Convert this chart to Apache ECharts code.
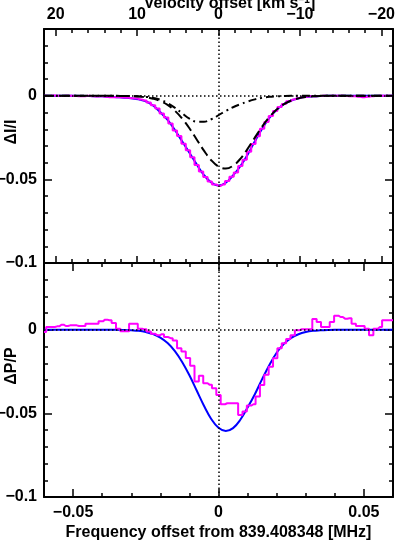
<!DOCTYPE html>
<html>
<head>
<meta charset="utf-8">
<script src="https://cdn.jsdelivr.net/npm/echarts@6/dist/echarts.min.js"></script>
<style>
html,body{margin:0;padding:0;background:#fff;}
#chart{width:415px;height:553px;}
</style>
</head>
<body>
<div id="chart"></div>
<script>
// ---------- DATA ----------
// frequency grid for the smooth fitted curves [MHz]
const fitFreq = [-0.06,-0.05,-0.04,-0.0375,-0.035,-0.0325,-0.03,-0.0275,-0.025,-0.0225,-0.02,-0.0175,-0.015,-0.0125,-0.01,-0.0075,-0.005,-0.0025,0,0.0025,0.005,0.0075,0.01,0.0125,0.015,0.0175,0.02,0.0225,0.025,0.0275,0.03,0.0325,0.035,0.0375,0.04,0.05,0.06];
// top panel: total fit (blue)
const fitTotalI = [0,0,-0.0003,-0.0005,-0.0008,-0.0011,-0.0015,-0.0021,-0.0032,-0.0058,-0.0098,-0.0144,-0.0204,-0.0272,-0.0340,-0.0410,-0.0474,-0.0518,-0.0537,-0.0520,-0.0476,-0.0421,-0.0352,-0.0272,-0.0196,-0.0132,-0.0084,-0.0050,-0.0028,-0.0014,-0.0006,-0.0003,-0.0001,0,0,0,0];
// top panel: component 1 (dashed)
const compDashedI = [0,0,0,0,0,-0.0001,-0.0002,-0.0004,-0.0008,-0.0017,-0.0031,-0.0054,-0.0089,-0.0136,-0.0194,-0.0261,-0.0328,-0.0385,-0.0423,-0.0435,-0.0418,-0.0377,-0.0317,-0.0250,-0.0184,-0.0127,-0.0082,-0.0050,-0.0028,-0.0015,-0.0007,-0.0003,-0.0001,0,0,0,0];
// top panel: component 2 (dash-dot)
const compDashDotI = [0,0,0,0,0,-0.0001,-0.0001,-0.0003,-0.0006,-0.0012,-0.0023,-0.0043,-0.0071,-0.0104,-0.0136,-0.0155,-0.0155,-0.0140,-0.0116,-0.0090,-0.0068,-0.0050,-0.0034,-0.0021,-0.0012,-0.0006,-0.0003,-0.0001,0,0,0,0,0,0,0,0,0];
// bottom panel: fit (blue)
const fitP = [0,0,0,0,0,-0.0001,-0.0003,-0.0006,-0.0013,-0.0025,-0.0046,-0.0079,-0.0127,-0.0192,-0.0272,-0.0363,-0.0454,-0.0533,-0.0586,-0.0605,-0.0588,-0.0538,-0.0465,-0.0385,-0.0295,-0.0210,-0.0137,-0.0084,-0.0048,-0.0026,-0.0013,-0.0006,-0.0003,-0.0001,0,0,0];

// observed spectra (histogram), channel centres [MHz]
const chanFreq = [-0.06,-0.0585,-0.057,-0.0555,-0.054,-0.0525,-0.051,-0.0495,-0.048,-0.0465,-0.045,-0.0435,-0.042,-0.0405,-0.039,-0.0375,-0.036,-0.0345,-0.033,-0.0315,-0.03,-0.0285,-0.027,-0.0255,-0.024,-0.0225,-0.021,-0.0195,-0.018,-0.0165,-0.015,-0.0135,-0.012,-0.0105,-0.009,-0.0075,-0.006,-0.0045,-0.003,-0.0015,0,0.0015,0.003,0.0045,0.006,0.0075,0.009,0.0105,0.012,0.0135,0.015,0.0165,0.018,0.0195,0.021,0.0225,0.024,0.0255,0.027,0.0285,0.03,0.0315,0.033,0.0345,0.036,0.0375,0.039,0.0405,0.042,0.0435,0.045,0.0465,0.048,0.0495,0.051,0.0525,0.054,0.0555,0.057,0.0585,0.06];
const obsI = [0,-0.0001,0.0002,0,-0.0001,0,0.0001,-0.0001,-0.0003,-0.0002,0,-0.0002,-0.0004,-0.0003,-0.0005,-0.0008,-0.0009,-0.0008,-0.0010,-0.0012,-0.0014,-0.0016,-0.0022,-0.0028,-0.0040,-0.0056,-0.0076,-0.0106,-0.0130,-0.0165,-0.0208,-0.0240,-0.0286,-0.0326,-0.0368,-0.0413,-0.0452,-0.0486,-0.0512,-0.0530,-0.0539,-0.0530,-0.0510,-0.0484,-0.0459,-0.0420,-0.0382,-0.0334,-0.0288,-0.0242,-0.0197,-0.0156,-0.0121,-0.0090,-0.0066,-0.0048,-0.0033,-0.0022,-0.0014,-0.0009,-0.0005,-0.0003,-0.0002,-0.0001,0,-0.0001,0,0.0001,0,-0.0001,-0.0002,-0.0003,-0.0006,-0.0008,-0.0006,-0.0003,-0.0001,0,0,0,0];
const obsP = [-0.0013,0.0017,0.0017,0.0021,0.0031,0.0023,0.0027,0.0027,0.0023,0.0023,0.0037,0.0037,0.0037,0.0051,0.0061,0.0057,0.0041,0.0007,-0.0009,-0.0009,0.0037,0.0037,0.0007,0.0003,-0.0010,-0.0023,-0.0033,-0.0026,-0.0043,-0.0050,-0.0063,-0.0110,-0.0130,-0.0169,-0.0215,-0.0309,-0.0275,-0.0319,-0.0329,-0.0349,-0.0389,-0.0445,-0.0439,-0.0439,-0.0439,-0.0509,-0.0489,-0.0453,-0.0445,-0.0399,-0.0330,-0.0269,-0.0220,-0.0170,-0.0110,-0.0080,-0.0054,-0.0033,-0.0003,0.0003,0.0003,0.0003,0.0065,0.0047,0.0017,0.0017,0.0047,0.0085,0.0077,0.0067,0.0070,0.0037,0.0023,0.0023,0.0007,-0.0033,0.0007,0.0017,0.0057,0.0057,0.0057];

// tick positions
const freqMajorTicks = [-0.05, 0, 0.05];
const freqMinorTicks = [-0.06,-0.05,-0.04,-0.03,-0.02,-0.01,0,0.01,0.02,0.03,0.04,0.05,0.06];
const velMajorTicks = [-20,-10,0,10,20];
const velMinorTicks = [-20,-18,-16,-14,-12,-10,-8,-6,-4,-2,0,2,4,6,8,10,12,14,16,18,20];
const yMajorTicks = [-0.1,-0.05,0];
const yMinorTicks = [-0.1,-0.09,-0.08,-0.07,-0.06,-0.05,-0.04,-0.03,-0.02,-0.01,0,0.01,0.02,0.03];

// axis ranges
const freqMin = -0.06, freqMax = 0.06;
const velLimit = 21.4286;   // |velocity| at the frequency limits, km/s
const yMin = -0.1, yMax = 0.04;

// ---------- CHART ----------
const FONT = 'Liberation Sans';
const fmt = v => (Math.abs(v) < 1e-9 ? '0' : String(+v.toFixed(4)).replace('-', '\u2212'));
const lbl = {fontFamily: FONT, fontWeight: 'bold', fontSize: 16, color: '#000'};

function xAx(grid, pos, min, max, ticks, len, opts) {
  return Object.assign({
    type: 'value', gridIndex: grid, position: pos, min: min, max: max,
    axisLine: {show: false, onZero: false},
    axisTick: {show: true, inside: true, length: len, customValues: ticks, lineStyle: {color: '#000', width: 1.5}},
    axisLabel: {show: false},
    splitLine: {show: false},
    nameMoveOverlap: false
  }, opts || {});
}
function yAx(grid, pos, ticks, len, opts) {
  return Object.assign({
    type: 'value', gridIndex: grid, position: pos, min: yMin, max: yMax,
    axisLine: {show: false, onZero: false},
    axisTick: {show: true, inside: true, length: len, customValues: ticks, lineStyle: {color: '#000', width: 1.5}},
    axisLabel: {show: false},
    splitLine: {show: false},
    nameMoveOverlap: false
  }, opts || {});
}
const line2 = {show: true, onZero: false, lineStyle: {color: '#000', width: 2}};

const xAxes = [
  {type: 'value', gridIndex: 0, min: freqMin, max: freqMax, show: false},
  xAx(0, 'top', -velLimit, velLimit, velMajorTicks, 7, {
    inverse: true, axisLine: line2,
    axisLabel: Object.assign({show: true, customValues: velMajorTicks, formatter: fmt, margin: 6}, lbl),
    name: '{a|Velocity offset [km s}{s|\u22121}{a|]}',
    nameLocation: 'middle', nameGap: 16,
    nameTextStyle: {rich: {a: lbl, s: {fontFamily: FONT, fontWeight: 'bold', fontSize: 10, color: '#000', verticalAlign: 'top', padding: [0,0,8,0]}}, padding: [0,0,0,22]}
  }),
  xAx(0, 'top', -velLimit, velLimit, velMinorTicks, 4, {inverse: true}),
  xAx(0, 'bottom', -velLimit, velLimit, velMajorTicks, 7, {inverse: true, axisLine: line2}),
  xAx(0, 'bottom', -velLimit, velLimit, velMinorTicks, 4, {inverse: true}),
  xAx(1, 'bottom', freqMin, freqMax, freqMajorTicks, 8, {
    axisLine: line2,
    axisLabel: Object.assign({show: true, customValues: freqMajorTicks, formatter: fmt, margin: 8}, lbl),
    name: 'Frequency offset from 839.408348 [MHz]',
    nameLocation: 'middle', nameGap: 28,
    nameTextStyle: lbl
  }),
  xAx(1, 'bottom', freqMin, freqMax, freqMinorTicks, 4),
  xAx(1, 'top', freqMin, freqMax, freqMajorTicks, 8, {axisLine: line2}),
  xAx(1, 'top', freqMin, freqMax, freqMinorTicks, 4)
];

const yAxes = [];
[0, 1].forEach(g => {
  yAxes.push(yAx(g, 'left', yMajorTicks, 8, {
    axisLine: line2,
    axisLabel: Object.assign({show: true, customValues: yMajorTicks, formatter: fmt, margin: 7}, lbl),
    name: g === 0 ? '\u0394I/I' : '\u0394P/P',
    nameLocation: 'middle', nameGap: 24, nameRotate: 90,
    nameTextStyle: Object.assign({padding: [0,0,0,28]}, lbl)
  }));
  yAxes.push(yAx(g, 'left', yMinorTicks, 4));
  yAxes.push(yAx(g, 'right', yMajorTicks, 8, {axisLine: line2}));
  yAxes.push(yAx(g, 'right', yMinorTicks, 4));
});

const pairs = (xs, ys) => xs.map((x, i) => [x, ys[i]]);
const dotted = {color: '#000', width: 1.5, type: [1.5, 2.5]};

const option = {
  animation: false,
  backgroundColor: '#fff',
  grid: [
    {left: 44, right: 22, top: 29, height: 234, containLabel: false, outerBoundsMode: 'none'},
    {left: 44, right: 22, top: 263, height: 234, containLabel: false, outerBoundsMode: 'none'}
  ],
  xAxis: xAxes,
  yAxis: yAxes,
  series: [
    {type: 'line', xAxisIndex: 0, yAxisIndex: 0, data: pairs(fitFreq, fitTotalI), smooth: 0.4,
     showSymbol: false, lineStyle: {color: '#0000ff', width: 2}, z: 2},
    {type: 'line', xAxisIndex: 0, yAxisIndex: 0, data: pairs(chanFreq, obsI), step: 'middle',
     showSymbol: false, lineStyle: {color: '#ff00ff', width: 2}, z: 3},
    {type: 'line', xAxisIndex: 0, yAxisIndex: 0, data: pairs(fitFreq, compDashedI), smooth: 0.4,
     showSymbol: false, lineStyle: {color: '#000', width: 2, type: [10, 5]}, z: 4},
    {type: 'line', xAxisIndex: 0, yAxisIndex: 0, data: pairs(fitFreq, compDashDotI), smooth: 0.4,
     showSymbol: false, lineStyle: {color: '#000', width: 2, type: [8, 4, 2, 4]}, z: 4,
     markLine: {silent: true, symbol: 'none', label: {show: false}, lineStyle: dotted, z: 10,
       data: [{yAxis: 0}, {xAxis: 0}]}},
    {type: 'line', xAxisIndex: 5, yAxisIndex: 4, data: pairs(fitFreq, fitP), smooth: 0.4,
     showSymbol: false, lineStyle: {color: '#0000ff', width: 2}, z: 2},
    {type: 'line', xAxisIndex: 5, yAxisIndex: 4, data: pairs(chanFreq, obsP), step: 'middle',
     showSymbol: false, lineStyle: {color: '#ff00ff', width: 2}, z: 3,
     markLine: {silent: true, symbol: 'none', label: {show: false}, lineStyle: dotted, z: 10,
       data: [{yAxis: 0}, {xAxis: 0}]}}
  ]
};

const chart = echarts.init(document.getElementById('chart'), null, {renderer: 'canvas'});
chart.setOption(option);
</script>
</body>
</html>
